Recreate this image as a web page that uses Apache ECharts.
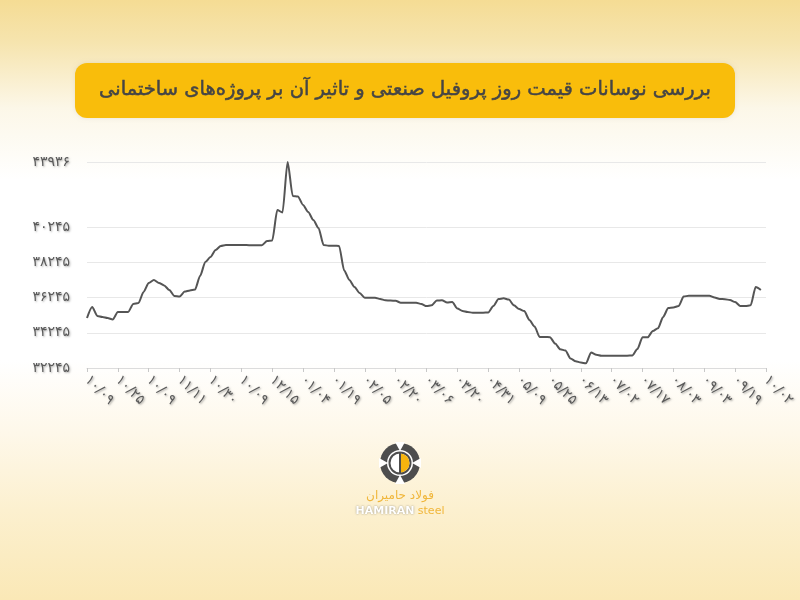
<!DOCTYPE html>
<html>
<head>
<meta charset="utf-8">
<script src="https://cdn.jsdelivr.net/npm/echarts@6/dist/echarts.min.js"></script>
<style>
html,body{margin:0;padding:0;}
#chart{width:800px;height:600px;}
</style>
</head>
<body>
<div id="chart"></div>
<script>
// ---- data ----
const titleText = 'بررسی نوسانات قیمت روز پروفیل صنعتی و تاثیر آن بر پروژه‌های ساختمانی';
const tickLabels = ['۱۰/۰۹','۱۰/۲۵','۱۰/۰۹','۱۱/۱۱','۱۰/۳۰','۱۰/۰۹','۱۲/۱۵','۰۱/۰۴','۰۱/۱۹','۰۲/۰۵','۰۲/۲۰','۰۳/۰۶','۰۳/۲۰','۰۴/۳۱','۰۵/۰۹','۰۵/۲۵','۰۶/۱۳','۰۷/۰۲','۰۷/۱۷','۰۸/۰۳','۰۹/۰۳','۰۹/۱۹','۱۰/۰۲'];
const pointsPerTick = 6;
const yTickValues = [32245, 34245, 36245, 38245, 40245, 43936];
const yMin = 32245;
const yMax = 43936;
const prices = [
  35080, 35710, 35200, 35140, 35080, 35000,
  35420, 35420, 35430, 35880, 35930, 36560,
  37070, 37240, 37070, 36930, 36670, 36330,
  36300, 36580, 36650, 36700, 37480, 38260,
  38540, 38940, 39170, 39225, 39225, 39225,
  39220, 39220, 39215, 39210, 39210, 39450,
  39480, 41210, 41070, 43936, 42010, 41980,
  41500, 41100, 40640, 40190, 39225, 39185,
  39185, 39170, 37780, 37240, 36840, 36500,
  36235, 36235, 36230, 36160, 36090, 36075,
  36060, 35950, 35950, 35950, 35950, 35880,
  35760, 35800, 36075, 36090, 35960, 35990,
  35620, 35480, 35420, 35385, 35385, 35385,
  35395, 35760, 36160, 36200, 36130, 35800,
  35590, 35480, 34970, 34600, 34005, 34005,
  33990, 33635, 33305, 33240, 32785, 32625,
  32555, 32510, 33125, 33000, 32945, 32945,
  32945, 32945, 32945, 32945, 32950, 33320,
  33990, 33990, 34345, 34500, 35140, 35650,
  35680, 35760, 36300, 36350, 36350, 36350,
  36345, 36340, 36245, 36160, 36150, 36100,
  35990, 35760, 35760, 35800, 36840, 36670,
  null
];

// ---- helpers ----
const faDigits = '۰۱۲۳۴۵۶۷۸۹';
function toFa(s){ return String(s).replace(/[0-9]/g, d => faDigits[+d]); }
const categories = prices.map((_, i) => {
  const t = Math.floor(i / pointsPerTick);
  return i % pointsPerTick === 0 ? tickLabels[t] : tickLabels[t] + '\u200b' + (i % pointsPerTick);
});

const chart = echarts.init(document.getElementById('chart'), null, {renderer: 'canvas'});
const font = "'DejaVu Sans', sans-serif";

const option = {
  animation: false,
  backgroundColor: 'transparent',
  grid: {left: 87, right: 34, top: 162, bottom: 232, outerBoundsMode: 'none'},
  xAxis: {
    type: 'category',
    boundaryGap: false,
    data: categories,
    axisLine: {show: true, lineStyle: {color: '#dcdcdc', width: 1}},
    axisTick: {show: true, interval: pointsPerTick - 1, length: 4, lineStyle: {color: '#c8c8c8'}},
    axisLabel: {
      interval: pointsPerTick - 1,
      rotate: -45,
      margin: 10,
      color: '#5a5a5a',
      fontSize: 14,
      fontFamily: font,
      textShadowColor: 'rgba(0,0,0,0.35)',
      textShadowBlur: 2,
      textShadowOffsetX: 1,
      textShadowOffsetY: 1
    },
    splitLine: {show: false}
  },
  yAxis: {
    type: 'value',
    min: yMin,
    max: yMax,
    axisLine: {show: false},
    axisTick: {show: false, customValues: yTickValues},
    axisLabel: {
      customValues: yTickValues,
      margin: 17,
      color: '#5a5a5a',
      fontSize: 14,
      fontFamily: font,
      formatter: v => toFa(v),
      textShadowColor: 'rgba(0,0,0,0.3)',
      textShadowBlur: 2,
      textShadowOffsetX: 1,
      textShadowOffsetY: 1
    },
    splitLine: {show: true, lineStyle: {color: '#e8e8e8', width: 1}}
  },
  series: [{
    type: 'line',
    data: prices,
    symbol: 'none',
    smooth: 0.25,
    smoothMonotone: 'x',
    lineStyle: {color: '#555555', width: 2},
    z: 5
  }],
  graphic: [
    {
      type: 'rect', z: -10, silent: true,
      shape: {x: 0, y: 0, width: 800, height: 600},
      style: {
        fill: {
          type: 'linear', x: 0, y: 0, x2: 0, y2: 1,
          colorStops: [
            {offset: 0, color: '#F5DC94'},
            {offset: 0.07, color: '#F6E4AE'},
            {offset: 0.18, color: '#FCF7E8'},
            {offset: 0.3, color: '#FFFFFF'},
            {offset: 0.6, color: '#FFFFFF'},
            {offset: 0.72, color: '#FEF8EA'},
            {offset: 0.85, color: '#FCF0CF'},
            {offset: 1, color: '#FAE8B6'}
          ]
        }
      }
    },
    {
      type: 'rect', z: 10, silent: true,
      shape: {x: 75, y: 63, width: 660, height: 55, r: 12},
      style: {fill: '#F9BD0B', shadowColor: 'rgba(0,0,0,0.08)', shadowBlur: 4}
    },
    {
      type: 'text', z: 11, silent: true,
      style: {
        text: titleText,
        x: 405, y: 90,
        align: 'center', verticalAlign: 'middle',
        font: "19.5px " + font,
        fill: '#454545',
        stroke: '#454545',
        lineWidth: 0.5
      }
    },
    // logo icon
    {
      type: 'group', z: 10, silent: true, x: 400, y: 463,
      children: [
        {type: 'circle', shape: {cx: 0, cy: 0, r: 20}, style: {fill: '#4d4d4d'}},
        {type: 'polygon', shape: {points: [[-5, -21], [5, -21], [0, -12]]}, style: {fill: '#ffffff'}},
        {type: 'polygon', shape: {points: [[-5, 21], [5, 21], [0, 12]]}, style: {fill: '#ffffff'}},
        {type: 'polygon', shape: {points: [[-21, -5], [-21, 5], [-12, 0]]}, style: {fill: '#ffffff'}},
        {type: 'polygon', shape: {points: [[21, -5], [21, 5], [12, 0]]}, style: {fill: '#ffffff'}},
        {type: 'circle', shape: {cx: 0, cy: 0, r: 13}, style: {fill: '#ffffff'}},
        {type: 'circle', shape: {cx: 0, cy: 0, r: 10.5}, style: {fill: '#ffffff', stroke: '#4d4d4d', lineWidth: 2}},
        {type: 'sector', shape: {cx: 0, cy: 0, r: 9.5, r0: 0, startAngle: -Math.PI / 2, endAngle: Math.PI / 2}, style: {fill: '#F6B40E'}},
        {type: 'line', shape: {x1: 0, y1: -10, x2: 0, y2: 10}, style: {stroke: '#4d4d4d', lineWidth: 2}}
      ]
    },
    {
      type: 'text', z: 10, silent: true,
      style: {
        text: 'فولاد حامیران',
        x: 400, y: 496,
        align: 'center', verticalAlign: 'middle',
        font: "12px " + font,
        fill: '#F0B63A'
      }
    },
    {
      type: 'text', z: 10, silent: true,
      style: {
        text: '{a|HAMIRAN} {b|steel}',
        x: 400, y: 511,
        align: 'center', verticalAlign: 'middle',
        rich: {
          a: {fontSize: 11, fontFamily: font, fontWeight: 'bold', fill: '#ffffff', textShadowColor: 'rgba(0,0,0,0.4)', textShadowBlur: 2},
          b: {fontSize: 11, fontFamily: font, fill: '#F0B63A'}
        }
      }
    }
  ]
};
chart.setOption(option);
</script>
</body>
</html>
